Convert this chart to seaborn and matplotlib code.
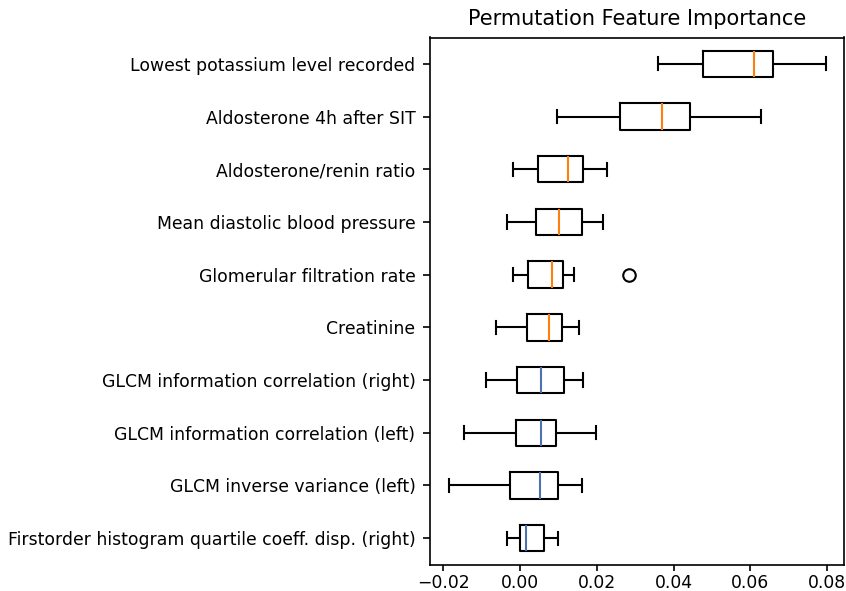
import numpy as np
import pandas as pd
import matplotlib
matplotlib.use("Agg")
import matplotlib.pyplot as plt
import seaborn as sns

features = [
    "Lowest potassium level recorded",
    "Aldosterone 4h after SIT",
    "Aldosterone/renin ratio",
    "Mean diastolic blood pressure",
    "Glomerular filtration rate",
    "Creatinine",
    "GLCM information correlation (right)",
    "GLCM information correlation (left)",
    "GLCM inverse variance (left)",
    "Firstorder histogram quartile coeff. disp. (right)",
]
whisker_low = [0.0359, 0.0097, -0.0019, -0.0033, -0.0019, -0.0063, -0.0089, -0.0146, -0.0185, -0.0035]
q1 = [0.0476, 0.0261, 0.0048, 0.0043, 0.0021, 0.0017, -0.0008, -0.0010, -0.0026, -0.0001]
median = [0.0609, 0.0371, 0.0124, 0.0102, 0.0083, 0.0075, 0.0054, 0.0056, 0.0053, 0.0015]
q3 = [0.0658, 0.0444, 0.0165, 0.0161, 0.0111, 0.0110, 0.0114, 0.0094, 0.0098, 0.0063]
whisker_high = [0.0796, 0.0628, 0.0227, 0.0217, 0.0141, 0.0155, 0.0164, 0.0197, 0.0161, 0.0100]
outliers = {"Glomerular filtration rate": [0.0285]}
clinical = features[:6]
radiomic = features[6:]

# Build per-feature samples whose quartiles / whiskers reproduce the read five-number summaries
rows = []
for i, f in enumerate(features):
    extra = outliers.get(f, [whisker_high[i]])[0]
    vals = [whisker_low[i], q1[i], q1[i], median[i], median[i], q3[i], q3[i], whisker_high[i], extra]
    for v in vals:
        rows.append({"feature": f, "importance": v})
df = pd.DataFrame(rows)

W, H, DPI = 846, 591, 150
fig, ax = plt.subplots(figsize=(W / DPI, H / DPI), dpi=DPI)
fig.subplots_adjust(left=430 / W, right=844 / W, top=1 - 37.5 / H, bottom=1 - 564.5 / H)

lw = 1.0
common = dict(
    x="importance", y="feature", order=features, orient="h", ax=ax,
    width=0.5, whis=1.5, fill=False, color="black", linewidth=lw,
    boxprops=dict(color="black", linewidth=lw),
    whiskerprops=dict(color="black", linewidth=lw),
    capprops=dict(color="black", linewidth=lw),
    flierprops=dict(marker="o", markerfacecolor="none", markeredgecolor="black",
                    markersize=6, markeredgewidth=lw),
)
sns.boxplot(data=df[df.feature.isin(clinical)],
            medianprops=dict(color="#ff7f0e", linewidth=lw), **common)
sns.boxplot(data=df[df.feature.isin(radiomic)],
            medianprops=dict(color="#4c72b0", linewidth=lw), **common)

ax.set_xlim(-0.02344, 0.0844)
ax.set_ylim(9.5, -0.5)
ax.set_xticks([-0.02, 0.0, 0.02, 0.04, 0.06, 0.08])
ax.set_xlabel("")
ax.set_ylabel("")
ax.set_title("Permutation Feature Importance", fontsize=10)
ax.tick_params(labelsize=8.3)
ax.tick_params(axis="x", length=3, pad=1.8)
for s in ax.spines.values():
    s.set_visible(True)
    s.set_color("black")
    s.set_linewidth(0.8)

fig.savefig("out.png", dpi=DPI)
